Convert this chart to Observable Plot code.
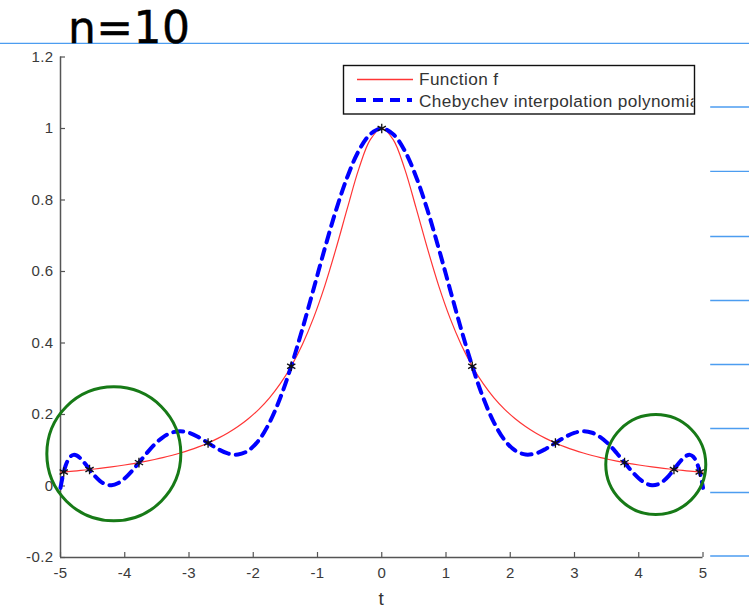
<!DOCTYPE html>
<html><head><meta charset="utf-8">
<script src="https://cdn.jsdelivr.net/npm/d3@7"></script>
<script src="https://cdn.jsdelivr.net/npm/@observablehq/plot@0.6"></script>
<style>
html,body{margin:0;padding:0;background:#fff;}
#chart{position:relative;width:749px;height:610px;overflow:hidden;}
#chart svg text{letter-spacing:0.4px;}
</style></head><body><div id="chart"></div>
<script>
// sample abscissae t
const tGrid = [-5.000,-4.997,-4.987,-4.971,-4.949,-4.921,-4.886,-4.845,-4.797,-4.744,-4.685,-4.619,-4.548,-4.471,-4.388,-4.300,-4.206,-4.107,-4.003,-3.893,-3.779,-3.659,-3.536,-3.407,-3.274,-3.137,-2.996,-2.852,-2.703,-2.551,-2.396,-2.238,-2.077,-1.913,-1.747,-1.579,-1.409,-1.237,-1.063,-0.888,-0.712,-0.534,-0.357,-0.178,0,
0.178,0.357,0.534,0.712,0.888,1.063,1.237,1.409,1.579,1.747,1.913,2.077,2.238,2.396,2.551,2.703,2.852,2.996,3.137,3.274,3.407,3.536,3.659,3.779,3.893,4.003,4.107,4.206,4.300,4.388,4.471,4.548,4.619,4.685,4.744,4.797,4.845,4.886,4.921,4.949,4.971,4.987,4.997,5.000];
// Function f
const fValues = [0.0385,0.0385,0.0387,0.0389,0.0392,0.0397,0.0402,0.0409,0.0416,0.0425,0.0436,0.0448,0.0461,0.0476,0.0494,0.0513,0.0535,0.0560,0.0587,0.0619,0.0654,0.0695,0.0741,0.0793,0.0853,0.0922,0.1002,0.1095,0.1204,0.1332,0.1483,0.1664,0.1882,0.2145,0.2467,0.2863,0.3351,0.3954,0.4696,0.5592,0.6639,0.7778,0.8871,0.9691,1.0000,
0.9691,0.8871,0.7778,0.6639,0.5592,0.4696,0.3954,0.3351,0.2863,0.2467,0.2145,0.1882,0.1664,0.1483,0.1332,0.1204,0.1095,0.1002,0.0922,0.0853,0.0793,0.0741,0.0695,0.0654,0.0619,0.0587,0.0560,0.0535,0.0513,0.0494,0.0476,0.0461,0.0448,0.0436,0.0425,0.0416,0.0409,0.0402,0.0397,0.0392,0.0389,0.0387,0.0385,0.0385];
// Chebychev interpolation polynomial
const pValues = [-0.0053,-0.0020,0.0076,0.0220,0.0392,0.0567,0.0718,0.0825,0.0871,0.0850,0.0765,0.0628,0.0461,0.0291,0.0145,0.0049,0.0023,0.0076,0.0209,0.0409,0.0654,0.0916,0.1162,0.1362,0.1489,0.1531,0.1486,0.1367,0.1204,0.1036,0.0911,0.0881,0.0992,0.1282,0.1773,0.2469,0.3351,0.4380,0.5499,0.6637,0.7714,0.8653,0.9380,0.9842,1.0000,
0.9842,0.9380,0.8653,0.7714,0.6637,0.5499,0.4380,0.3351,0.2469,0.1773,0.1282,0.0992,0.0881,0.0911,0.1036,0.1204,0.1367,0.1486,0.1531,0.1489,0.1362,0.1162,0.0916,0.0654,0.0409,0.0209,0.0076,0.0023,0.0049,0.0145,0.0291,0.0461,0.0628,0.0765,0.0850,0.0871,0.0825,0.0718,0.0567,0.0392,0.0220,0.0076,-0.0020,-0.0053];
// interpolation nodes
const nodeT = [-4.949,-4.548,-3.779,-2.703,-1.409,0,1.409,2.703,3.779,4.548,4.949];
const nodeF = [0.0392,0.0461,0.0654,0.1204,0.3351,1.0000,0.3351,0.1204,0.0654,0.0461,0.0392];
// ticks
const xTicks = [-5,-4,-3,-2,-1,0,1,2,3,4,5];
const xTickLabels = ["-5","-4","-3","-2","-1","0","1","2","3","4","5"];
const yTicks = [-0.2,0,0.2,0.4,0.6,0.8,1,1.2];
const yTickLabels = ["-0.2","0","0.2","0.4","0.6","0.8","1","1.2"];
const xLabel = "t";
const legendLabels = ["Function f","Chebychev interpolation polynomial"];
const noteText = "n=10";
// hand-drawn green circles (data units, radius in px)
const circleT = [-4.17, 4.265];
const circleY = [0.09, 0.06];
const circleR = [67, 50];
// notebook ruling lines (data units)
const noteLineY = [1.238, 1.060, 0.880, 0.698, 0.519, 0.340, 0.161, -0.018, -0.196];
const noteLineX1 = [-5.94, 5.12, 5.12, 5.12, 5.12, 5.12, 5.12, 5.12, 5.12];
const noteLineX2 = [5.75, 5.75, 5.75, 5.75, 5.75, 5.75, 5.75, 5.75, 5.75];

const W = 749, H = 610;
const mL = 60, mR = 46.5, mT = 56.5, mB = 53;
const plotW = W - mL - mR, plotH = H - mT - mB;

const rows = tGrid.map((t, i) => ({t, f: fValues[i], p: pValues[i]}));
const nodes = nodeT.map((t, i) => ({t, y: nodeF[i]}));
const circles = circleT.map((t, i) => ({t, y: circleY[i], r: circleR[i]}));
const notes = noteLineY.map((y, i) => ({y, x1: noteLineX1[i], x2: noteLineX2[i]}));

const axisColor = "#555";
const plot = Plot.plot({
  width: W, height: H,
  marginLeft: mL, marginRight: mR, marginTop: mT, marginBottom: mB,
  x: {domain: [-5, 5]},
  y: {domain: [-0.2, 1.2]},
  r: {type: "identity"},
  style: {fontFamily: "'Liberation Sans', Arial, sans-serif", color: "#3a3a3a", background: "transparent", overflow: "visible"},
  marks: [
    Plot.ruleY(notes, {y: "y", x1: "x1", x2: "x2", stroke: "#4c9df0", strokeWidth: 1.4, clip: false}),
    Plot.ruleX([-5], {stroke: axisColor, strokeWidth: 1.5}),
    Plot.ruleY([-0.2], {stroke: axisColor, strokeWidth: 1.5}),
    Plot.tickX(xTicks, {x: d => d, insetTop: plotH - 5, stroke: axisColor, strokeWidth: 1.2}),
    Plot.tickY(yTicks, {y: d => d, insetRight: plotW - 5, stroke: axisColor, strokeWidth: 1.2}),
    Plot.axisX({ticks: xTicks, tickFormat: d => xTickLabels[xTicks.indexOf(d)], tickSize: 0, tickPadding: 10, fontSize: 15, label: null}),
    Plot.axisY({ticks: yTicks, tickFormat: d => yTickLabels[yTicks.indexOf(d)], tickSize: 0, tickPadding: 7, fontSize: 15, label: null}),
    Plot.line(rows, {x: "t", y: "f", stroke: "#ff3535", strokeWidth: 1.2, curve: "catmull-rom"}),
    Plot.line(rows, {x: "t", y: "p", stroke: "#0000ff", strokeWidth: 4, strokeDasharray: "10,7", curve: "catmull-rom"}),
    Plot.dot(nodes, {x: "t", y: "y", symbol: "asterisk", r: 4.5, stroke: "#111", strokeWidth: 1.3}),
    Plot.dot(circles, {x: "t", y: "y", r: "r", stroke: "#177a17", strokeWidth: 3, fill: "none"})
  ]
});
plot.setAttribute("overflow", "visible");
document.getElementById("chart").appendChild(plot);

const svg = d3.select(plot);
// legend
const lg = svg.append("g").attr("font-family", "'Liberation Sans', Arial, sans-serif").attr("text-anchor", "start");
const clip = svg.append("clipPath").attr("id", "lgclip");
clip.append("rect").attr("x", 344).attr("y", 66).attr("width", 349.5).attr("height", 47);
lg.append("rect").attr("x", 343.5).attr("y", 65.5).attr("width", 351).attr("height", 48.5)
  .attr("fill", "#fff").attr("stroke", "#111").attr("stroke-width", 1.4);
lg.append("line").attr("x1", 357).attr("x2", 413).attr("y1", 79.5).attr("y2", 79.5)
  .attr("stroke", "#ff3535").attr("stroke-width", 1.3);
lg.append("line").attr("x1", 356).attr("x2", 412).attr("y1", 100).attr("y2", 100)
  .attr("stroke", "#0000ff").attr("stroke-width", 4).attr("stroke-dasharray", "10,7");
lg.selectAll("text.lg").data(legendLabels).join("text").attr("class", "lg")
  .attr("x", 419).attr("y", (d, i) => i ? 106.5 : 85).attr("text-anchor", "start")
  .attr("font-size", 17.2).attr("fill", "#333").attr("clip-path", "url(#lgclip)")
  .text(d => d);
// axis label
svg.append("text").attr("x", mL + plotW / 2).attr("y", 605).attr("text-anchor", "middle")
  .attr("font-family", "'Liberation Sans', Arial, sans-serif").attr("font-size", 19).attr("fill", "#333")
  .text(xLabel);
// handwritten note
svg.append("text").attr("x", 68).attr("y", 43).attr("text-anchor", "start").attr("font-family", "'DejaVu Sans', sans-serif")
  .attr("font-size", 44).attr("fill", "#000").attr("stroke", "#000").attr("stroke-width", 0.4)
  .attr("letter-spacing", "3px").text(noteText);
</script></body></html>
